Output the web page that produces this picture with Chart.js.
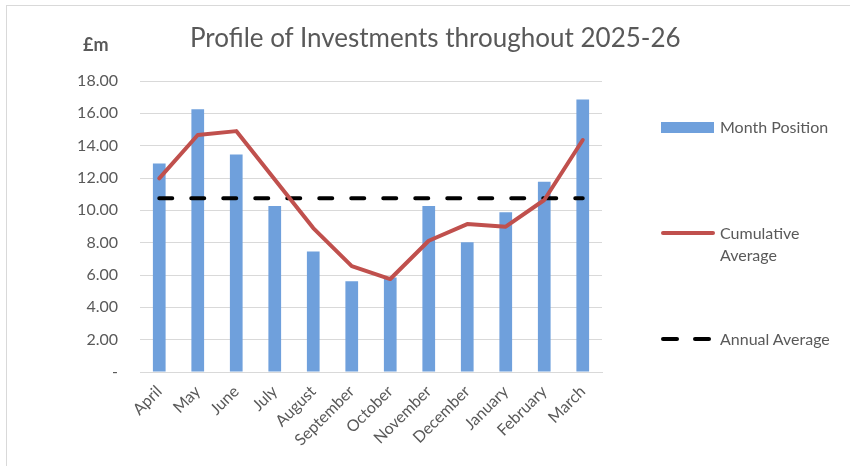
<!DOCTYPE html>
<html>
<head>
<meta charset="utf-8">
<script src="https://cdn.jsdelivr.net/npm/chart.js@4/dist/chart.umd.min.js"></script>
<style>
    html, body { margin: 0; padding: 0; background: #fff; }
    body { width: 850px; height: 466px; position: relative; overflow: hidden; font-family: Lato, "Open Sans", sans-serif; color: #595959; }
    #frame { position: absolute; left: 6px; top: 5px; width: 900px; height: 500px; border: 1px solid #d9d9d9; box-sizing: border-box; }
    #chartWrap { position: absolute; left: 0; top: 0; width: 850px; height: 466px; }
    #title { position: absolute; left: 190px; top: 21px; font-size: 26px; white-space: nowrap; }
    #unit { position: absolute; left: 83px; top: 33px; font-size: 18px; font-weight: bold; }
    .legend-item { position: absolute; left: 661px; font-size: 16px; line-height: 22px; }
    .legend-item .txt { position: absolute; left: 59px; top: 0; white-space: nowrap; }
    .swatch-bar { position: absolute; left: 0; width: 53px; height: 11px; background: #6fa0dc; }
    .swatch-line { position: absolute; left: 0; width: 54px; height: 4px; border-radius: 2px; background: #c0504d; }
    .swatch-dash { position: absolute; width: 18px; height: 4px; border-radius: 2px; background: #000; }
</style>
</head>
<body>
<div id="frame"></div>
<div id="chartWrap"><canvas id="investChart" width="850" height="466"></canvas></div>
<div id="title">Profile of Investments throughout 2025-26</div>
<div id="unit">£m</div>

<div class="legend-item" style="top:116px;">
    <div class="swatch-bar" style="top:6px;"></div>
    <div class="txt">Month Position</div>
</div>
<div class="legend-item" style="top:222px;">
    <div class="swatch-line" style="top:9px;"></div>
    <div class="txt">Cumulative<br>Average</div>
</div>
<div class="legend-item" style="top:328px;">
    <div class="swatch-dash" style="left:0; top:9px;"></div>
    <div class="swatch-dash" style="left:32px; top:9px;"></div>
    <div class="txt">Annual Average</div>
</div>

<script>
// Monthly investment position vs. running average, 2025-26 (£m)
const months = ['April', 'May', 'June', 'July', 'August', 'September', 'October', 'November', 'December', 'January', 'February', 'March'];
const monthPosition = [12.90, 16.25, 13.45, 10.27, 7.45, 5.62, 5.85, 10.27, 8.02, 9.88, 11.77, 16.86];
const cumulativeAverage = [11.98, 14.66, 14.90, 11.90, 8.90, 6.55, 5.75, 8.12, 9.15, 8.99, 10.64, 14.35];
const annualAverage = [10.74, 10.74, 10.74, 10.74, 10.74, 10.74, 10.74, 10.74, 10.74, 10.74, 10.74, 10.74];
const yTicks = [0, 2, 4, 6, 8, 10, 12, 14, 16, 18];

const grey = '#595959';
const gridGrey = '#d9d9d9';

new Chart(document.getElementById('investChart').getContext('2d'), {
    type: 'bar',
    data: {
        labels: months,
        datasets: [
            {
                type: 'line', label: 'Cumulative Average', data: cumulativeAverage,
                borderColor: '#c0504d', borderWidth: 4, pointRadius: 0, tension: 0,
                borderJoinStyle: 'round', borderCapStyle: 'round', order: 1
            },
            {
                type: 'line', label: 'Annual Average', data: annualAverage,
                borderColor: '#000000', borderWidth: 4, borderDash: [13, 19], pointRadius: 0,
                borderCapStyle: 'round', order: 2
            },
            {
                label: 'Month Position', data: monthPosition,
                backgroundColor: '#6fa0dc', categoryPercentage: 1, barPercentage: 0.33, order: 3
            }
        ]
    },
    options: {
        responsive: false,
        animation: false,
        layout: { padding: { top: 81, right: 248, bottom: 0, left: 0 } },
        plugins: { legend: { display: false }, tooltip: { enabled: false }, title: { display: false } },
        scales: {
            x: {
                grid: { display: false },
                border: { color: gridGrey, width: 1 },
                ticks: { color: grey, font: { family: 'Lato', size: 16 }, minRotation: 45, maxRotation: 45, padding: 2 },
                afterFit: (s) => { s.height = 94; }
            },
            y: {
                min: 0, max: 18,
                afterBuildTicks: (s) => { s.ticks = yTicks.map(v => ({ value: v })); },
                afterFit: (s) => { s.width = 140; },
                grid: { color: gridGrey, lineWidth: 1, drawTicks: false },
                border: { display: false },
                ticks: {
                    color: grey, font: { family: 'Lato', size: 16 }, padding: 22,
                    callback: (v) => v === 0 ? '-' : v.toFixed(2)
                }
            }
        }
    }
});
</script>
</body>
</html>
